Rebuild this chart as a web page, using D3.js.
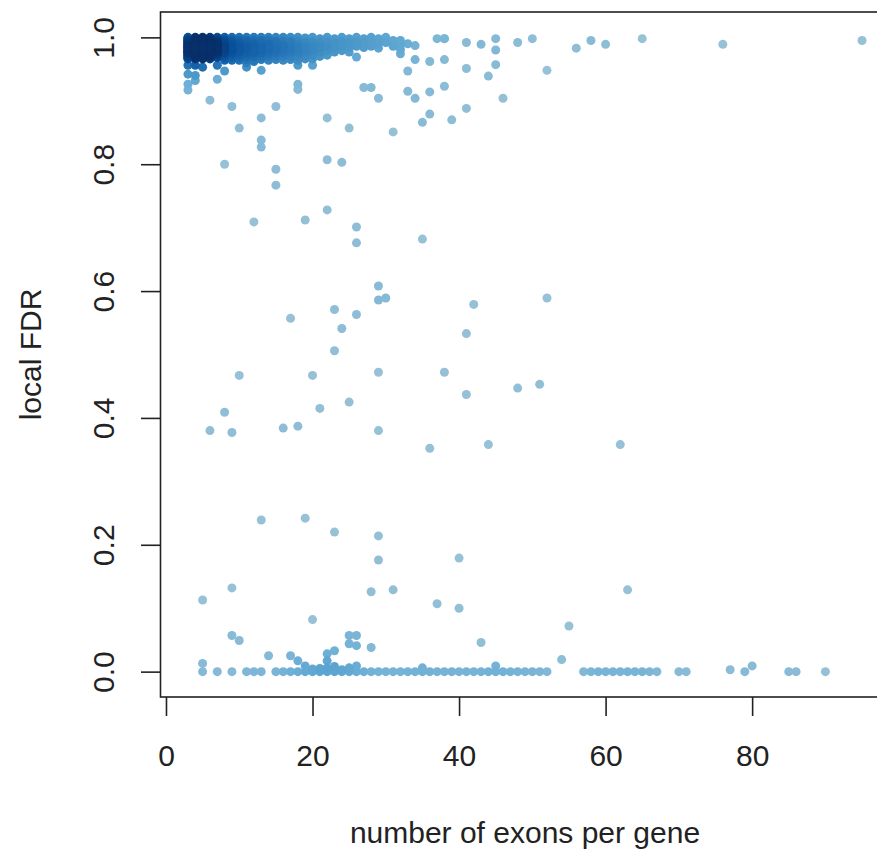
<!DOCTYPE html>
<html>
<head>
<meta charset="utf-8">
<script src="https://cdn.jsdelivr.net/npm/d3@7"></script>
<style>
  html, body { margin: 0; padding: 0; background: #fff; }
  svg { display: block; }
</style>
</head>
<body>
<div id="chart"></div>
<script>
// number of exons per gene vs local FDR (densCols-style scatter)

// dense band near FDR = 1, one list of FDR values per exon count
const topClusterX = [3, 4, 5, 6, 7, 8, 9, 10, 11, 12, 13, 14, 15, 16, 17, 18, 19, 20, 21, 22, 23, 24, 25, 26, 27, 28, 29, 30, 31, 33];
const topClusterY = [
  [1.000, 0.998, 0.996, 0.994, 0.992, 0.990, 0.988, 0.986, 0.984, 0.982, 0.980, 0.978, 0.976, 0.974, 0.972, 0.970, 0.968, 0.966, 0.999, 0.995, 0.991, 0.987, 0.983, 0.979, 0.975, 0.971, 0.967, 0.993, 0.985, 0.977],
  [1.000, 0.998, 0.996, 0.994, 0.992, 0.990, 0.988, 0.986, 0.984, 0.982, 0.980, 0.978, 0.976, 0.974, 0.972, 0.970, 0.968, 0.966, 0.999, 0.995, 0.991, 0.987, 0.983, 0.979, 0.975, 0.971],
  [1.000, 0.998, 0.996, 0.994, 0.992, 0.990, 0.988, 0.986, 0.984, 0.982, 0.980, 0.978, 0.976, 0.974, 0.972, 0.970, 0.968, 0.966, 0.999, 0.995, 0.991, 0.987, 0.983, 0.979, 0.975, 0.971],
  [1.000, 0.998, 0.996, 0.994, 0.992, 0.990, 0.988, 0.986, 0.984, 0.982, 0.980, 0.978, 0.976, 0.974, 0.972, 0.970, 0.968, 0.966, 0.999, 0.995, 0.991, 0.987, 0.983, 0.979],
  [1.000, 0.996, 0.992, 0.988, 0.984, 0.980, 0.976, 0.972, 0.968, 0.998, 0.990, 0.982, 0.974, 0.994, 0.986, 0.978],
  [1.000, 0.996, 0.992, 0.988, 0.984, 0.980, 0.976, 0.972, 0.968, 0.964, 0.994, 0.986, 0.978],
  [1.000, 0.996, 0.992, 0.988, 0.984, 0.980, 0.976, 0.972, 0.968, 0.964, 0.994, 0.982],
  [1.000, 0.996, 0.992, 0.988, 0.984, 0.980, 0.976, 0.972, 0.968, 0.964, 0.990, 0.978],
  [1.000, 0.995, 0.990, 0.985, 0.980, 0.975, 0.970, 0.965, 0.960, 0.993, 0.983],
  [1.000, 0.995, 0.990, 0.985, 0.980, 0.975, 0.970, 0.965, 0.962, 0.988, 0.978],
  [1.000, 0.995, 0.990, 0.985, 0.980, 0.975, 0.970, 0.965, 0.993, 0.983],
  [1.000, 0.995, 0.990, 0.985, 0.980, 0.975, 0.970, 0.964, 0.988],
  [1.000, 0.994, 0.988, 0.982, 0.976, 0.970, 0.965, 0.991, 0.979],
  [1.000, 0.994, 0.988, 0.982, 0.976, 0.970, 0.964, 0.985],
  [1.000, 0.994, 0.988, 0.982, 0.976, 0.970, 0.965, 0.991],
  [1.000, 0.994, 0.988, 0.982, 0.976, 0.970, 0.964],
  [0.999, 0.992, 0.985, 0.978, 0.971, 0.966],
  [1.000, 0.993, 0.986, 0.979, 0.972, 0.966],
  [0.998, 0.991, 0.984, 0.977, 0.970],
  [1.000, 0.993, 0.986, 0.979, 0.972],
  [0.998, 0.991, 0.984, 0.977],
  [1.000, 0.993, 0.986, 0.979],
  [0.998, 0.991, 0.984, 0.977],
  [1.000, 0.993, 0.986],
  [0.998, 0.991, 0.984],
  [1.000, 0.993, 0.986],
  [0.998, 0.990, 0.983],
  [1.000, 0.992],
  [0.995, 0.986],
  [0.990]
];

// scattered genes (exon count, local FDR)
const scatterX = [
  38, 41, 43, 45, 45, 48, 50, 56, 58, 60, 65, 76, 95,
  38, 41, 45, 44, 52, 38, 46, 41, 39,
  26, 32, 32, 32, 32, 34, 37, 38,
  34, 36, 33, 18, 20, 18, 18, 27, 28, 29, 33, 34, 36, 36, 35, 31, 25, 22, 15, 13, 10, 9, 6,
  3, 4, 5, 7, 8, 3, 4, 4, 7, 3, 3, 11, 13,
  13, 13, 8, 15, 15, 22, 24, 22, 19, 12, 26, 26, 35,
  29, 29, 30, 23, 26, 17, 24, 23, 42, 52, 41,
  10, 20, 29, 38, 41, 48, 51, 25, 21, 8, 6, 9, 16, 18, 29, 36, 44, 62,
  13, 19, 23, 29, 29, 40, 5, 9, 28, 31, 37, 40, 20, 43,
  9, 10, 25, 26, 25, 26, 28, 22, 23, 22, 14, 17, 18, 19, 5, 45, 26, 35,
  63, 55, 54, 77, 80,
  20, 21, 24, 25, 23, 22
];
const scatterY = [
  0.998, 0.992, 0.989, 0.998, 0.980, 0.992, 0.998, 0.983, 0.995, 0.989, 0.998, 0.989, 0.995,
  0.965, 0.951, 0.957, 0.939, 0.948, 0.923, 0.904, 0.888, 0.870,
  0.969, 0.995, 0.988, 0.981, 0.974, 0.987, 0.998, 0.998,
  0.965, 0.962, 0.947, 0.956, 0.956, 0.926, 0.918, 0.921, 0.921, 0.904, 0.915, 0.904, 0.914, 0.879, 0.866, 0.851, 0.857, 0.873, 0.891, 0.873, 0.857, 0.891, 0.901,
  0.956, 0.956, 0.953, 0.956, 0.947, 0.942, 0.940, 0.932, 0.934, 0.926, 0.917, 0.953, 0.948,
  0.838, 0.827, 0.800, 0.792, 0.767, 0.807, 0.803, 0.728, 0.712, 0.709, 0.701, 0.676, 0.682,
  0.608, 0.586, 0.589, 0.571, 0.563, 0.557, 0.541, 0.506, 0.579, 0.589, 0.533,
  0.467, 0.467, 0.472, 0.472, 0.437, 0.447, 0.453, 0.425, 0.415, 0.409, 0.380, 0.377, 0.384, 0.387, 0.380, 0.352, 0.358, 0.358,
  0.239, 0.242, 0.220, 0.214, 0.176, 0.179, 0.113, 0.132, 0.126, 0.129, 0.107, 0.100, 0.082, 0.046,
  0.057, 0.049, 0.057, 0.057, 0.044, 0.041, 0.038, 0.028, 0.033, 0.017, 0.025, 0.025, 0.017, 0.009, 0.013, 0.009, 0.009, 0.006,
  0.129, 0.072, 0.019, 0.003, 0.009,
  0.004, 0.005, 0.003, 0.006, 0.008, 0.006
];

// genes with local FDR = 0
const zeroRowX = [
  5, 7, 9, 11, 12, 13,
  15, 16, 17, 18, 19, 20, 21, 22, 23, 24, 25, 26, 27, 28, 29, 30, 31, 32, 33,
  34, 35, 36, 37, 38, 39, 40, 41, 42, 43, 44, 45, 46, 47, 48, 49, 50, 51, 52,
  57, 58, 59, 60, 61, 62, 63, 64, 65, 66, 67, 70, 71, 79, 85, 86, 90
];

const xTicks = [0, 20, 40, 60, 80];
const yTicks = [0.0, 0.2, 0.4, 0.6, 0.8, 1.0];
const xTitle = "number of exons per gene";
const yTitle = "local FDR";

// densCols-like ramp (blues9 without the lightest three)
const blues = ["#97C1D6", "#6BAED6", "#4292C6", "#2171B5", "#08519C", "#08306B"];

const width = 877;
const height = 852;
const fontFamily = "'Liberation Sans', Arial, sans-serif";

const svg = d3.select("#chart")
  .append("svg")
  .attr("width", width)
  .attr("height", height);

const x = d3.scaleLinear()
  .domain([-0.68, 98.68])
  .range([161, 889]);

const y = d3.scaleLinear()
  .domain([-0.04, 1.04])
  .range([697, 12]);

// collect all points
let points = [];
topClusterX.forEach((cx, i) => {
  topClusterY[i].forEach(v => points.push({ x: cx, y: v }));
});
scatterX.forEach((v, i) => points.push({ x: v, y: scatterY[i] }));
zeroRowX.forEach(v => points.push({ x: v, y: 0 }));

// local density in screen space (gaussian kernel) for the colours
const bw = 11;
points.forEach(p => { p.px = x(p.x); p.py = y(p.y); });
points.forEach(p => {
  let s = 0;
  for (const q of points) {
    const dx = p.px - q.px, dy = p.py - q.py;
    s += Math.exp(-(dx * dx + dy * dy) / (2 * bw * bw));
  }
  p.dens = s;
});
const maxDens = d3.max(points, d => d.dens);
const ramp = d3.piecewise(d3.interpolateRgb, blues);
const colour = d => ramp(Math.min(1, 1.2 * Math.pow((d.dens - 1) / (maxDens - 1), 0.65)));

points.sort((a, b) => a.dens - b.dens);

const plotArea = svg.append("g");

plotArea.selectAll("circle")
  .data(points)
  .enter()
  .append("circle")
  .attr("cx", d => x(d.x))
  .attr("cy", d => y(d.y))
  .attr("r", 4.5)
  .attr("fill", d => colour(d));

// box round the plot region
svg.append("rect")
  .attr("x", 160.5)
  .attr("y", 12)
  .attr("width", 889 - 160.5)
  .attr("height", 697 - 12)
  .attr("fill", "none")
  .attr("stroke", "#222")
  .attr("stroke-width", 1.6);

// x axis
const xAxis = svg.append("g")
  .attr("transform", "translate(0,697)")
  .call(d3.axisBottom(x).tickValues(xTicks).tickSize(19).tickFormat(d3.format("d")));
xAxis.select(".domain").remove();
xAxis.selectAll("line").attr("stroke", "#222").attr("stroke-width", 1.6);
xAxis.selectAll("text")
  .attr("y", 69)
  .attr("dy", 0)
  .attr("fill", "#222")
  .style("font-size", "30px")
  .style("font-family", fontFamily);

// y axis, labels parallel to the axis as in R
const yAxis = svg.append("g")
  .attr("transform", "translate(160,0)")
  .call(d3.axisLeft(y).tickValues(yTicks).tickSize(19).tickFormat(d3.format(".1f")));
yAxis.select(".domain").remove();
yAxis.selectAll("line").attr("stroke", "#222").attr("stroke-width", 1.6);
yAxis.selectAll("text")
  .attr("x", 0)
  .attr("y", -46)
  .attr("dy", 0)
  .attr("transform", "rotate(-90)")
  .attr("text-anchor", "middle")
  .attr("fill", "#222")
  .style("font-size", "30px")
  .style("font-family", fontFamily);

// axis titles
svg.append("text")
  .attr("x", 525)
  .attr("y", 843)
  .attr("text-anchor", "middle")
  .attr("fill", "#222")
  .style("font-size", "30px")
  .style("font-family", fontFamily)
  .text(xTitle);

svg.append("text")
  .attr("transform", `translate(41,${(12 + 697) / 2}) rotate(-90)`)
  .attr("text-anchor", "middle")
  .attr("fill", "#222")
  .style("font-size", "30px")
  .style("font-family", fontFamily)
  .text(yTitle);
</script>
</body>
</html>
